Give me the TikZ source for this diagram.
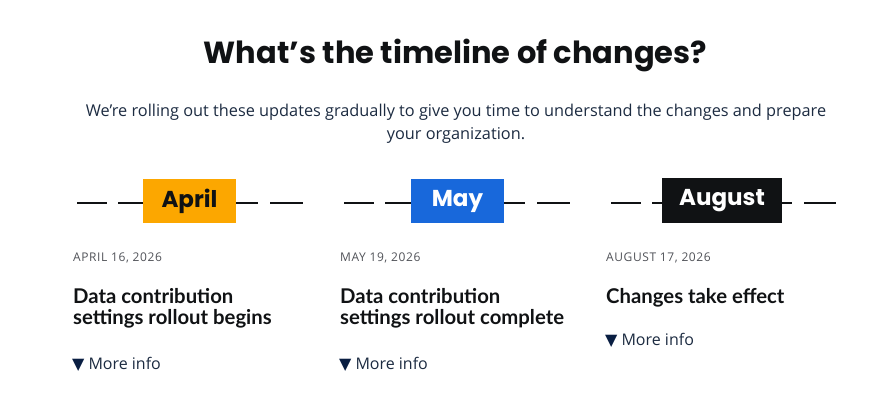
\documentclass[tikz,border=0pt]{standalone}
\usepackage{fontspec}
\setmainfont{Open Sans}
\newfontfamily\dispfont{Poppins}
\newfontfamily\headfont{Lato}
\newfontfamily\symfont{DejaVu Sans}
\usetikzlibrary{calc}
\definecolor{ink}{HTML}{101214}
\definecolor{body}{HTML}{1C2B41}
\definecolor{datec}{HTML}{505258}
\definecolor{orangeb}{HTML}{FCA700}
\definecolor{blueb}{HTML}{1868DB}
\definecolor{navy}{HTML}{091E42}
\tikzset{
  x=1pt, y=-1pt,
  monthbox/.style={minimum width=#1, minimum height=44pt, inner sep=0pt, font=\dispfont\bfseries\fontsize{23}{26}\selectfont},
  dashline/.style={line width=1.7pt, draw=ink, dash pattern=on 30pt off 11pt on 140pt off 12pt on 40pt},
  datetext/.style={anchor=base west, inner sep=0pt, text=datec, font=\fontsize{12}{14}\selectfont\addfontfeatures{LetterSpace=5}},
  headtext/.style={anchor=base west, inner sep=0pt, text=ink, align=left, font=\headfont\bfseries\fontsize{20.3}{21.5}\selectfont},
  moretext/.style={anchor=base west, inner sep=0pt, text=body, font=\fontsize{16}{18}\selectfont},
}
\newcommand{\moreinfo}{{\symfont\color{navy}\fontsize{16}{18}\selectfont▼}\hspace{4pt}More info}
\begin{document}
\begin{tikzpicture}
\useasboundingbox (0,0) rectangle (896,414);
\node[anchor=base, inner sep=0pt, text=ink, font=\dispfont\bfseries\fontsize{30.5}{34}\selectfont] (title) at (455.5,64) {What’s the timeline of changes?};
\node[anchor=base, inner sep=0pt, text=body, font=\fontsize{16.3}{23}\selectfont] (sub1) at (456,117) {We’re rolling out these updates gradually to give you time to understand the changes and prepare};
\node[anchor=base, inner sep=0pt, text=body, font=\fontsize{16.3}{23}\selectfont] (sub2) at (456,140) {your organization.};

% timeline lines
\coordinate (l1a) at (77,203); \coordinate (l1b) at (303,203);
\coordinate (l2a) at (344,203); \coordinate (l2b) at (570,203);
\coordinate (l3a) at (611,203); \coordinate (l3b) at (836,203);
\draw[dashline] (l1a) -- (l1b);
\draw[dashline] (l2a) -- (l2b);
\draw[dashline] (l3a) -- (l3b);

\node[monthbox=93pt, fill=orangeb, text=ink] (apr) at (189.5,201) {April};
\node[monthbox=93pt, fill=blueb, text=white] (may) at (457.5,201) {May};
\node[monthbox=120pt, fill=ink, text=white] (aug) at (722,200.5) {August};

% column 1
\node[datetext] (d1) at (73,261) {APRIL 16, 2026};
\node[headtext] (h1) at (73,324.5) {Data contribution\\settings rollout begins};
\node[moretext] (m1) at (72,369) {\moreinfo};

% column 2
\node[datetext] (d2) at (340,261) {MAY 19, 2026};
\node[headtext] (h2) at (340,324.5) {Data contribution\\settings rollout complete};
\node[moretext] (m2) at (339,369) {\moreinfo};

% column 3
\node[datetext] (d3) at (606,261) {AUGUST 17, 2026};
\node[headtext] (h3) at (606,303) {Changes take effect};
\node[moretext] (m3) at (605,345) {\moreinfo};
\end{tikzpicture}
\end{document}
